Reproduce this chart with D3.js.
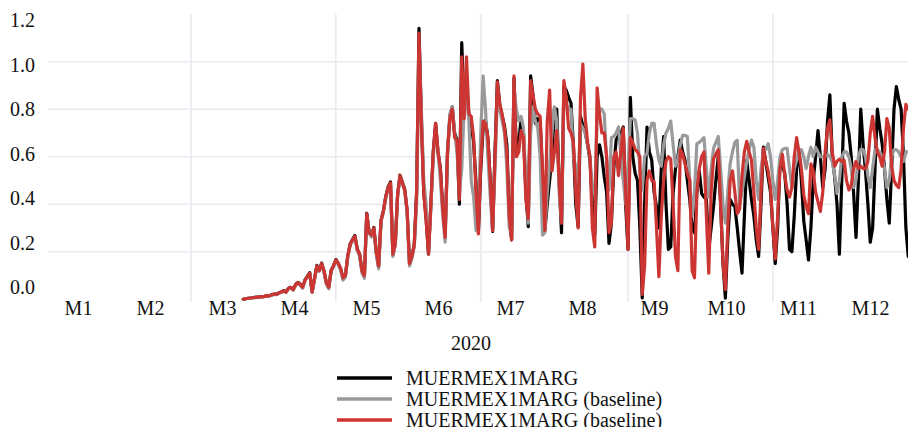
<!DOCTYPE html>
<html>
<head>
<meta charset="utf-8">
<script src="https://cdn.jsdelivr.net/npm/d3@7"></script>
<style>
  body { margin: 0; background: #ffffff; }
  svg text { font-family: "Liberation Serif", "DejaVu Serif", serif; fill: #111; }
</style>
</head>
<body>
<svg id="chart" width="908" height="427"></svg>
<script>
// ---- data ---------------------------------------------------------------
const firstDay = "2020-03-23";           // first daily observation
const monthLabels = ["M1","M2","M3","M4","M5","M6","M7","M8","M9","M10","M11","M12"];
const yTickValues = [0, 0.2, 0.4, 0.6, 0.8, 1.0, 1.2];
const gridValues = [0.2, 0.4, 0.6, 0.8, 1.0];
const xTitle = "2020";
const seriesNames = ["MUERMEX1MARG", "MUERMEX1MARG (baseline)", "MUERMEX1MARG (baseline)"];

// daily values, one per day from firstDay
const observed = [
  0.000,0.002,0.004,0.005,0.007,0.008,0.009,0.010,0.011,0.012,
  0.015,0.014,0.019,0.022,0.021,0.027,0.030,0.036,0.031,0.046,
  0.050,0.041,0.061,0.071,0.063,0.051,0.081,0.096,0.112,0.032,
  0.086,0.142,0.121,0.152,0.118,0.068,0.049,0.121,0.141,0.167,
  0.151,0.128,0.088,0.098,0.182,0.232,0.252,0.268,0.212,0.188,
  0.118,0.096,0.362,0.282,0.268,0.302,0.198,0.136,0.332,0.372,
  0.432,0.474,0.494,0.188,0.232,0.442,0.522,0.492,0.462,0.372,
  0.152,0.180,
  0.230,0.450,1.140,0.760,0.450,0.340,0.190,0.400,0.620,0.740,
  0.620,0.550,0.380,0.270,0.620,0.770,0.810,0.700,0.670,0.400,
  1.080,0.800,0.900,0.780,0.740,0.660,0.490,0.280,0.550,0.720,
  0.755,0.680,0.500,0.285,0.620,0.920,0.820,0.770,0.730,0.650,
  0.350,0.250,0.930,0.620,0.660,0.760,0.700,0.450,0.305,0.940,
  0.860,0.740,0.760,0.750,0.520,0.290,0.400,0.500,0.600,0.800,
  0.800,0.500,0.280,0.895,0.880,0.850,0.825,0.650,0.400,0.305,
  0.770,0.730,0.700,0.650,0.585,0.400,0.270,0.600,0.650,0.600,
  0.515,0.450,0.235,0.320,0.550,0.670,0.690,0.700,0.725,0.400,
  0.210,0.850,0.600,0.530,0.500,0.300,0.005,0.400,0.725,0.620,
  0.585,0.450,0.390,0.300,0.550,0.685,0.400,0.210,0.220,0.450,
  0.550,0.600,0.670,0.620,0.585,0.500,0.420,0.300,0.280,0.450,
  0.540,0.445,0.430,0.420,0.210,0.300,0.390,0.500,0.600,0.400,
  0.150,0.004,0.250,0.420,0.400,0.390,0.300,0.200,0.110,0.350,
  0.585,0.500,0.420,0.350,0.250,0.180,0.400,0.640,0.580,0.515,
  0.450,0.300,0.150,0.300,0.585,0.560,0.530,0.400,0.210,0.200,
  0.350,0.550,0.630,0.500,0.330,0.250,0.165,0.300,0.500,0.600,
  0.710,0.600,0.470,0.550,0.750,0.860,0.600,0.515,0.400,0.190,
  0.500,0.825,0.750,0.700,0.600,0.445,0.260,0.500,0.800,0.650,
  0.540,0.400,0.240,0.300,0.550,0.800,0.720,0.655,0.550,0.420,
  0.320,0.550,0.800,0.895,0.840,0.800,0.600,0.300,0.180
];

const baselineGrey = [
  0.000,0.002,0.003,0.005,0.006,0.007,0.008,0.009,0.010,0.011,
  0.013,0.013,0.017,0.020,0.019,0.025,0.028,0.033,0.028,0.043,
  0.048,0.038,0.057,0.068,0.058,0.046,0.078,0.092,0.108,0.028,
  0.082,0.138,0.118,0.148,0.112,0.062,0.044,0.118,0.138,0.162,
  0.146,0.122,0.080,0.092,0.176,0.226,0.246,0.262,0.206,0.180,
  0.110,0.088,0.352,0.278,0.262,0.296,0.190,0.128,0.326,0.366,
  0.426,0.468,0.488,0.180,0.226,0.436,0.516,0.486,0.456,0.366,
  0.140,0.170,
  0.220,0.400,1.050,0.800,0.500,0.400,0.220,0.380,0.600,0.720,
  0.620,0.500,0.350,0.240,0.600,0.780,0.810,0.700,0.620,0.450,
  0.550,0.800,0.850,0.750,0.500,0.430,0.290,0.350,0.700,0.940,
  0.800,0.600,0.430,0.290,0.550,0.850,0.800,0.750,0.700,0.550,
  0.300,0.280,0.890,0.800,0.750,0.770,0.720,0.500,0.320,0.700,
  0.810,0.750,0.720,0.600,0.270,0.280,0.450,0.570,0.700,0.810,
  0.750,0.450,0.330,0.850,0.820,0.800,0.800,0.600,0.560,0.500,
  0.740,0.720,0.700,0.650,0.600,0.450,0.450,0.750,0.800,0.800,
  0.780,0.585,0.460,0.680,0.685,0.700,0.725,0.600,0.500,0.400,
  0.550,0.760,0.760,0.755,0.700,0.540,0.460,0.600,0.615,0.700,
  0.740,0.740,0.650,0.585,0.560,0.650,0.700,0.720,0.750,0.650,
  0.560,0.585,0.650,0.690,0.690,0.685,0.500,0.350,0.450,0.655,
  0.660,0.670,0.680,0.550,0.430,0.550,0.635,0.660,0.685,0.550,
  0.400,0.320,0.450,0.570,0.620,0.660,0.670,0.400,0.450,0.515,
  0.580,0.630,0.670,0.640,0.500,0.420,0.550,0.620,0.630,0.655,
  0.600,0.500,0.420,0.500,0.600,0.630,0.635,0.635,0.550,0.470,
  0.550,0.585,0.620,0.630,0.600,0.550,0.600,0.640,0.600,0.640,
  0.620,0.600,0.600,0.600,0.610,0.600,0.580,0.520,0.445,0.500,
  0.600,0.620,0.620,0.600,0.550,0.470,0.500,0.600,0.630,0.630,
  0.600,0.520,0.470,0.550,0.630,0.630,0.620,0.600,0.550,0.470,
  0.500,0.600,0.630,0.630,0.620,0.600,0.580,0.620,0.620
];

const baselineRed = [
  0.000,0.002,0.004,0.005,0.006,0.008,0.008,0.010,0.010,0.012,
  0.015,0.014,0.018,0.022,0.020,0.026,0.030,0.035,0.030,0.045,
  0.050,0.040,0.060,0.070,0.062,0.050,0.080,0.095,0.110,0.030,
  0.085,0.140,0.120,0.150,0.120,0.070,0.050,0.120,0.140,0.165,
  0.150,0.130,0.090,0.100,0.180,0.230,0.250,0.265,0.210,0.190,
  0.120,0.100,0.360,0.280,0.270,0.300,0.200,0.140,0.330,0.370,
  0.430,0.470,0.490,0.190,0.235,0.440,0.520,0.490,0.460,0.375,
  0.150,0.180,
  0.230,0.450,1.120,0.740,0.450,0.330,0.190,0.400,0.620,0.740,
  0.620,0.550,0.380,0.260,0.620,0.760,0.800,0.680,0.670,0.420,
  1.020,0.760,1.020,0.780,0.770,0.680,0.450,0.275,0.570,0.750,
  0.740,0.680,0.500,0.290,0.600,0.915,0.820,0.780,0.720,0.620,
  0.350,0.250,0.940,0.600,0.620,0.710,0.680,0.420,0.340,0.920,
  0.860,0.800,0.780,0.770,0.550,0.290,0.750,0.880,0.540,0.620,
  0.710,0.500,0.320,0.920,0.850,0.720,0.700,0.660,0.450,0.300,
  0.850,0.990,0.760,0.660,0.600,0.300,0.220,0.890,0.780,0.700,
  0.700,0.600,0.280,0.320,0.600,0.620,0.520,0.620,0.720,0.450,
  0.210,0.680,0.660,0.630,0.620,0.600,0.020,0.140,0.500,0.540,
  0.500,0.495,0.300,0.095,0.350,0.500,0.580,0.600,0.590,0.400,
  0.180,0.120,0.630,0.610,0.570,0.530,0.500,0.120,0.090,0.450,
  0.550,0.600,0.620,0.350,0.110,0.450,0.590,0.610,0.630,0.400,
  0.150,0.040,0.300,0.500,0.540,0.450,0.360,0.380,0.520,0.620,
  0.665,0.620,0.585,0.450,0.300,0.210,0.450,0.635,0.580,0.540,
  0.470,0.300,0.170,0.350,0.550,0.610,0.520,0.460,0.430,0.470,
  0.600,0.680,0.620,0.550,0.440,0.390,0.360,0.570,0.540,0.450,
  0.410,0.370,0.450,0.620,0.720,0.755,0.620,0.560,0.580,0.590,
  0.580,0.585,0.500,0.460,0.480,0.550,0.580,0.550,0.560,0.550,
  0.550,0.580,0.700,0.770,0.680,0.620,0.600,0.560,0.620,0.760,
  0.720,0.560,0.500,0.480,0.470,0.550,0.720,0.820,0.800
];

const seriesValues = [observed, baselineGrey, baselineRed];
const seriesColors = ["#000000", "#999a9c", "#cc3531"];

// ---- layout -------------------------------------------------------------
const svg = d3.select("#chart");
const plotLeft = 48.5, plotRight = 908, plotTop = 14, plotBottom = 302;

const parseDay = d3.timeParse("%Y-%m-%d");
const day0 = parseDay(firstDay);

const x = d3.scaleTime()
  .domain([new Date(2020, 0, 1), new Date(2021, 0, 1)])
  .range([48.5, 917.75]);
const y = d3.scaleLinear().domain([0, 1.2]).range([299.2, 14.2]);
// tick labels sit on their own, slightly tighter, vertical scale
const yLabelScale = d3.scaleLinear().domain([0, 1.2]).range([287.3, 20.3]);
const xLabelScale = d3.scalePoint().domain(monthLabels).range([78, 870]);

// grid
const grid = svg.append("g").attr("class", "grid");
grid.selectAll("line.h").data(gridValues).join("line")
  .attr("class", "h")
  .attr("x1", plotLeft).attr("x2", plotRight)
  .attr("y1", d => y(d)).attr("y2", d => y(d))
  .attr("stroke", "#e9e9f0").attr("stroke-width", 1.6);

const gridDates = d3.timeMonth.every(2).range(new Date(2020, 2, 1), new Date(2020, 11, 31));
grid.selectAll("line.v").data(gridDates).join("line")
  .attr("class", "v")
  .attr("x1", d => x(d)).attr("x2", d => x(d))
  .attr("y1", plotTop).attr("y2", plotBottom)
  .attr("stroke", "#e9e9f0").attr("stroke-width", 1.6);

// y axis labels
const yAxis = svg.append("g")
  .attr("transform", "translate(35,0)")
  .call(d3.axisLeft(yLabelScale).tickValues(yTickValues).tickSize(0).tickPadding(0)
    .tickFormat(d3.format(".1f")));
yAxis.select(".domain").remove();
yAxis.selectAll("text").attr("font-size", 20).style("font-family", '"Liberation Serif", serif').attr("fill", "#111");

// x axis labels
const xAxis = svg.append("g")
  .attr("transform", "translate(0,298)")
  .call(d3.axisBottom(xLabelScale).tickSize(0).tickPadding(3));
xAxis.select(".domain").remove();
xAxis.selectAll("text").attr("font-size", 20).style("font-family", '"Liberation Serif", serif').attr("fill", "#111");

svg.append("text")
  .attr("x", 471).attr("y", 349.5)
  .attr("text-anchor", "middle")
  .attr("font-size", 20)
  .text(xTitle);

// lines
svg.append("clipPath").attr("id", "plotClip")
  .append("rect").attr("x", plotLeft).attr("y", 0)
  .attr("width", plotRight - plotLeft).attr("height", 320);

const line = d3.line()
  .x((d, i) => x(d3.timeDay.offset(day0, i)))
  .y(d => y(d));

const lines = svg.append("g").attr("clip-path", "url(#plotClip)");
seriesValues.forEach((vals, k) => {
  lines.append("path")
    .datum(vals)
    .attr("d", line)
    .attr("fill", "none")
    .attr("stroke", seriesColors[k])
    .attr("stroke-width", 3.2)
    .attr("stroke-linejoin", "round")
    .attr("stroke-linecap", "round");
});

// legend
const legendRows = [378, 399, 420];
const legend = svg.append("g");
seriesNames.forEach((name, k) => {
  legend.append("line")
    .attr("x1", 337).attr("x2", 392)
    .attr("y1", legendRows[k]).attr("y2", legendRows[k])
    .attr("stroke", seriesColors[k]).attr("stroke-width", 3.5);
  legend.append("text")
    .attr("x", 406).attr("y", legendRows[k] + 6.5)
    .attr("font-size", 20)
    .text(name);
});
</script>
</body>
</html>
